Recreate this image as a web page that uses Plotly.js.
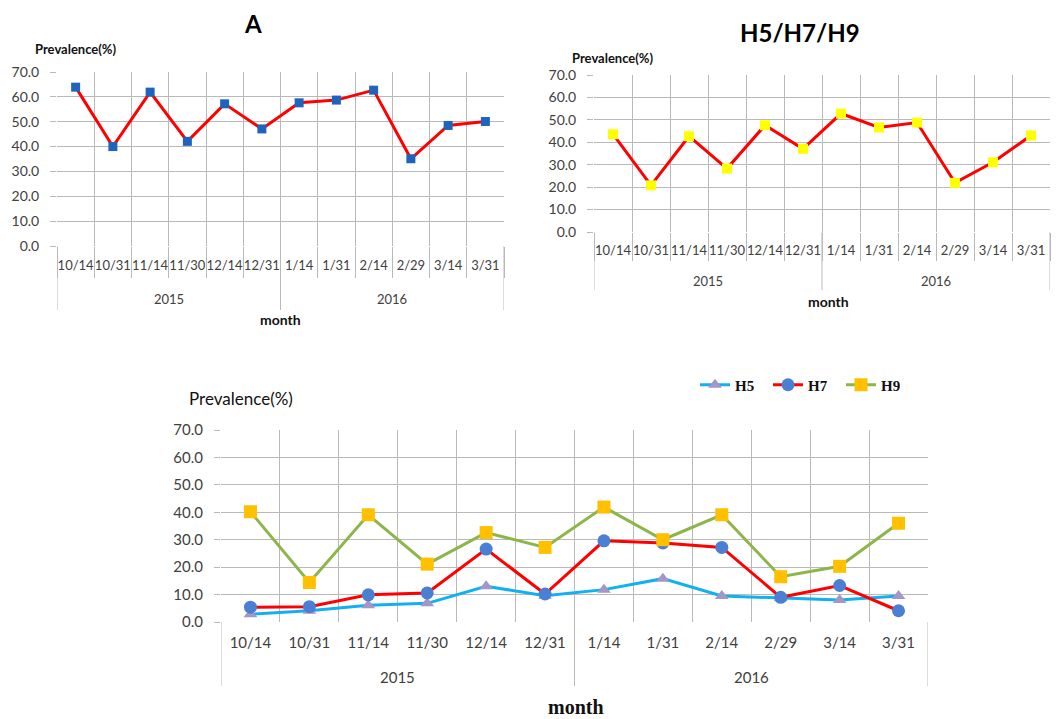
<!DOCTYPE html>
<html>
<head>
<meta charset="utf-8">
<script src="https://cdn.plot.ly/plotly-3.0.1.min.js"></script>
<style>html,body{margin:0;padding:0;background:#fff;}#chart{width:1060px;height:719px;}</style>
</head>
<body>
<div id="chart"></div>
<script>
// ---- data ----
const dates = ['10/14','10/31','11/14','11/30','12/14','12/31','1/14','1/31','2/14','2/29','3/14','3/31'];
const yearNames = ['2015', '2016'];
const yearSpans = [[0, 5], [6, 11]];   // index range of dates in each year
const prevA = [63.9, 40.0, 61.9, 42.1, 57.2, 47.1, 57.6, 58.7, 62.7, 35.1, 48.5, 50.1];
const prevH579 = [43.6, 20.8, 42.7, 28.3, 47.6, 37.1, 52.8, 46.6, 48.8, 21.9, 31.1, 43.0];
const h5 = [2.8, 4.1, 6.1, 6.8, 13.0, 9.6, 11.8, 15.8, 9.5, 8.7, 8.0, 9.5];
const h7 = [5.4, 5.6, 9.9, 10.6, 26.6, 10.2, 29.6, 28.8, 27.2, 9.0, 13.3, 4.1];
const h9 = [40.2, 14.4, 39.1, 21.1, 32.6, 27.2, 41.9, 30.0, 39.1, 16.5, 20.3, 36.0];
const yTicks = [0, 10, 20, 30, 40, 50, 60, 70];

const W = 1060, H = 719;
const px = v => v / W;
const py = v => 1 - v / H;
const sans = 'Lato, "Open Sans", sans-serif';
const serif = '"Liberation Serif", "Times New Roman", serif';
const GRID = '#b9b9b9';

const traces = [
  {x: dates, y: prevA, type: 'scatter', mode: 'lines+markers', xaxis: 'x', yaxis: 'y',
   line: {color: '#ff0000', width: 3}, marker: {symbol: 'square', size: 9, color: '#1f64bc'}, showlegend: false},
  {x: dates, y: prevH579, type: 'scatter', mode: 'lines+markers', xaxis: 'x2', yaxis: 'y2',
   line: {color: '#ff0000', width: 3}, marker: {symbol: 'square', size: 10, color: '#ffff00'}, showlegend: false},
  {x: dates, y: h5, name: 'H5', type: 'scatter', mode: 'lines+markers', xaxis: 'x3', yaxis: 'y3',
   line: {color: '#11b1f0', width: 3}, marker: {symbol: 'triangle-up', size: 12, color: '#a396c8'}},
  {x: dates, y: h7, name: 'H7', type: 'scatter', mode: 'lines+markers', xaxis: 'x3', yaxis: 'y3',
   line: {color: '#ff0000', width: 3}, marker: {symbol: 'circle', size: 13, color: '#4a7fd3'}},
  {x: dates, y: h9, name: 'H9', type: 'scatter', mode: 'lines+markers', xaxis: 'x3', yaxis: 'y3',
   line: {color: '#8db54a', width: 3}, marker: {symbol: 'square', size: 13, color: '#ffc000'}}
];

function xAx(d0, d1, anchor, fs, tl, standoff) {
  return {
    domain: [px(d0), px(d1)], anchor: anchor, type: 'category', categoryorder: 'array', categoryarray: dates,
    range: [-0.5, dates.length - 0.5], tickson: 'boundaries', showgrid: true, gridcolor: GRID, gridwidth: 1,
    ticks: tl > 0 ? 'outside' : '', ticklen: tl, tickcolor: GRID, tickwidth: 1,
    ticklabelstandoff: standoff, tickangle: 0,
    showline: false, zeroline: false, fixedrange: true,
    tickfont: {family: sans, size: fs, color: '#404040'}
  };
}
function yAx(d0, d1, anchor, fs) {
  return {
    domain: [py(d1), py(d0)], anchor: anchor, range: [0, 70], tickvals: yTicks, tickformat: '.1f',
    showgrid: true, gridcolor: GRID, gridwidth: 1, zeroline: false, showline: false,
    ticks: 'outside', ticklen: 6, tickcolor: GRID, ticklabelstandoff: 8, fixedrange: true,
    tickfont: {family: sans, size: fs, color: '#404040'}
  };
}

const ann = (text, x, y, size, opts) => Object.assign({
  text: text, x: x, y: y, xref: 'paper', yref: 'paper', showarrow: false,
  xanchor: 'center', yanchor: 'middle', font: {family: sans, size: size, color: '#111'}
}, opts || {});

// year group labels and dividers, placed in each x axis' own category coordinates
const yearAnns = [], dividers = [];
function groupAxis(xref, yLabelPx, yTopPx, yBotPx, fs) {
  yearNames.forEach((name, i) => {
    const [a, b] = yearSpans[i];
    yearAnns.push({text: name, x: (a + b) / 2, xref: xref, y: py(yLabelPx), yref: 'paper',
      showarrow: false, xanchor: 'center', yanchor: 'middle',
      font: {family: sans, size: fs, color: '#404040'}});
    dividers.push({type: 'line', xref: xref, yref: 'paper', x0: a - 0.5, x1: a - 0.5,
      y0: py(yTopPx), y1: py(yBotPx), line: {color: GRID, width: 1}});
  });
  const last = yearSpans[yearSpans.length - 1][1] + 0.5;
  dividers.push({type: 'line', xref: xref, yref: 'paper', x0: last, x1: last,
    y0: py(yTopPx), y1: py(yBotPx), line: {color: GRID, width: 1}});
}
groupAxis('x', 299, 246, 310, 13);
groupAxis('x2', 281, 232, 290, 13);
groupAxis('x3', 677, 622, 686, 15);

const layout = {
  width: W, height: H, margin: {l: 0, r: 0, t: 0, b: 0},
  paper_bgcolor: '#fff', plot_bgcolor: '#fff', showlegend: true,
  xaxis: xAx(57, 504, 'y', 13, 31, 10),
  yaxis: yAx(72, 246, 'x', 14),
  xaxis2: xAx(594, 1050, 'y2', 13, 28, 9),
  yaxis2: yAx(75, 232, 'x2', 14),
  xaxis3: xAx(221, 928, 'y3', 15, 0, 10),
  yaxis3: yAx(430, 622, 'x3', 15),
  legend: {orientation: 'h', x: px(695), y: py(385), xanchor: 'left', yanchor: 'middle',
    font: {family: serif, size: 15, color: '#111', weight: 'bold'}, entrywidth: 28, itemwidth: 30,
    bgcolor: 'rgba(0,0,0,0)'},
  shapes: dividers,
  annotations: [
    ann('A', px(253), py(23), 24, {font: {family: sans, size: 24, color: '#000', weight: 'bold'}}),
    ann('H5/H7/H9', px(800), py(32), 24, {font: {family: sans, size: 24, color: '#000', weight: 'bold'}}),
    ann('Prevalence(%)', px(33), py(49), 13, {xanchor: 'left', font: {family: sans, size: 13, color: '#111', weight: 'bold'}}),
    ann('Prevalence(%)', px(570), py(58), 13, {xanchor: 'left', font: {family: sans, size: 13, color: '#111', weight: 'bold'}}),
    ann('Prevalence(%)', px(187), py(398), 17, {xanchor: 'left', font: {family: sans, size: 17, color: '#111'}}),
    ann('month', px(280), py(319), 14, {font: {family: sans, size: 14, color: '#111', weight: 'bold'}}),
    ann('month', px(828), py(301), 14, {font: {family: sans, size: 14, color: '#111', weight: 'bold'}}),
    ann('month', px(576), py(707), 20, {font: {family: serif, size: 20, color: '#111', weight: 'bold'}})
  ].concat(yearAnns)
};

Plotly.newPlot('chart', traces, layout, {displayModeBar: false, staticPlot: true});
</script>
</body>
</html>
